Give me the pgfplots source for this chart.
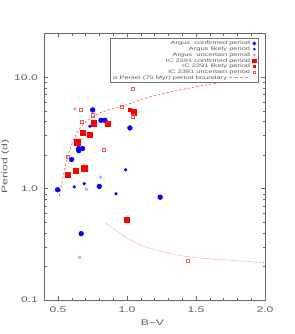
\documentclass[border=0pt]{standalone}
\usepackage{fontspec}
\usepackage{pgfplots}
\pgfplotsset{compat=1.18}
\newfontfamily\idl[FakeStretch=1.5]{Liberation Sans}
\definecolor{argb}{RGB}{0,0,255}
\definecolor{argu}{RGB}{175,175,255}
\definecolor{icr}{RGB}{255,0,0}
\definecolor{icu}{RGB}{240,90,90}
\definecolor{curve}{RGB}{245,110,110}
\definecolor{txt}{RGB}{95,95,95}
\pgfplotsset{smallmarkleg/.style={legend image code/.code={\draw[mark repeat=2,mark phase=2,##1,mark size=#1] plot coordinates {(0pt,0pt)(3pt,0pt)(6pt,0pt)};}}}
\newcommand\dsh{\rule[1.1pt]{2.6pt}{0.45pt}\hspace{1.6pt}}
\begin{document}
\begin{tikzpicture}
\begin{axis}[name=ax, scale only axis, width=176.8pt, height=213.6pt,
  xmin=0.4, xmax=2.0, ymode=log, ymin=0.1, ymax=25,
  xtick={0.5,1,1.5,2}, xticklabels={0.5,1.0,1.5,2.0}, minor x tick num=4,
  ytick={0.1,1,10}, yticklabels={0.1,1.0,10.0},
  tick align=inside,
  axis line style={black!60, line width=0.6pt},
  every tick/.style={black!60, line width=0.5pt},
  major tick length=3.2pt, minor tick length=2pt,
  ticklabel style={font=\idl\fontsize{6.5}{7}\selectfont, text=txt},
  xticklabel style={yshift=-2pt},
  yticklabel style={xshift=-1.5pt},
  xlabel={B−V}, ylabel={Period (d)},
  label style={font=\idl\fontsize{6.5}{7}\selectfont, text=txt},
  xlabel style={at={(axis description cs:0.49,0)}, anchor=north, yshift=-12pt},
  ylabel style={at={(axis description cs:-0.158,0.5)}, anchor=south, inner sep=0pt},
  legend plot pos=right, legend cell align=right,
  legend style={at={(0.972,0.981)}, anchor=north east, draw=black!55, line width=0.6pt,
    font=\idl\fontsize{4}{4.6}\selectfont, text=txt,
    nodes={inner sep=0.4pt, text height=3pt, text depth=0.8pt},
    row sep=0pt, inner xsep=2pt, inner ysep=1.5pt,
    /tikz/every even column/.append style={column sep=2pt}},
]
% alpha Persei boundary curves
\addplot[curve, dash pattern=on 2pt off 1.5pt, line width=0.6pt, smooth, forget plot] coordinates {
(0.509,0.86) (0.538,1.30) (0.570,1.94) (0.599,2.50) (0.635,3.18) (0.683,3.77)
(0.755,4.45) (0.852,5.05) (0.961,5.5) (1.15,6.6) (1.335,7.5) (1.577,8.6) (1.818,9.5) (2.0,10.0)};
\addplot[curve!80, dash pattern=on 0.5pt off 0.6pt, line width=0.5pt, smooth, forget plot] coordinates {
(0.85,0.488) (0.90,0.44) (0.997,0.364) (1.117,0.306) (1.238,0.276) (1.441,0.245) (1.722,0.229) (2.0,0.217)};
% Argus confirmed
\addplot[only marks, smallmarkleg=1.2pt, mark=*, mark size=1.9pt, mark options={draw=argb, fill=argb}] coordinates {
(0.751,5.11) (0.811,4.12) (0.840,4.12) (1.021,3.52) (0.650,2.30) (0.678,2.30) (0.650,2.20)
(0.599,1.83) (0.799,1.05) (0.497,0.98) (1.24,0.84) (0.668,0.395)};
\addlegendentry{Argus\ \ confirmed period}
% Argus likely
\addplot[only marks, smallmarkleg=0.75pt, mark=*, mark size=1.1pt, mark options={draw=argb, fill=argb}] coordinates {
(0.731,3.65) (0.99,1.48) (0.690,1.11) (0.617,1.04) (0.920,0.90)};
\addlegendentry{Argus likely period}
% Argus uncertain
\addplot[only marks, smallmarkleg=0.8pt, mark=*, mark size=1.2pt, mark options={draw=argu, fill=argu}] coordinates {
(0.622,5.22) (0.627,2.77) (0.809,1.27) (0.707,0.99) (0.657,0.242)};
\addlegendentry{Argus\ \ uncertain period}
% IC 2391 confirmed
\addplot[only marks, smallmarkleg=1.3pt, mark=square*, mark size=2.1pt, mark options={draw=icr, fill=icr}] coordinates {
(1.050,4.86) (0.758,3.88) (0.862,3.85) (0.678,3.18) (0.729,3.05) (0.639,2.62)
(0.690,1.53) (0.630,1.46) (0.570,1.34) (1.0,0.53)};
\addlegendentry{IC 2391 confirmed period}
% IC 2391 likely
\addplot[only marks, smallmarkleg=0.9pt, mark=square*, mark size=1.3pt, mark options={draw=icr, fill=icr}] coordinates {
(1.021,5.14)};
\addlegendentry{IC 2391 likely period}
% IC 2391 uncertain
\addplot[only marks, smallmarkleg=1.0pt, mark=square, mark size=1.3pt, mark options={draw=icu, line width=0.45pt}] coordinates {
(0.666,5.11) (0.751,4.57) (0.961,5.47) (1.04,4.48) (0.671,3.99) (0.830,2.24) (0.570,1.94)
(1.04,7.88) (1.441,0.226)};
\addlegendentry{IC 2391 uncertain period}
\addlegendimage{legend image code/.code={}}
\addlegendentry{α Persei (70 Myr) period boundary \textcolor{black!35}{\dsh\dsh\dsh\dsh}}
\end{axis}
\pgfresetboundingbox
\useasboundingbox ([xshift=-35.4pt,yshift=-27.2pt]ax.south west) rectangle ([xshift=23.4pt,yshift=26.6pt]ax.north east);
\end{tikzpicture}
\end{document}
